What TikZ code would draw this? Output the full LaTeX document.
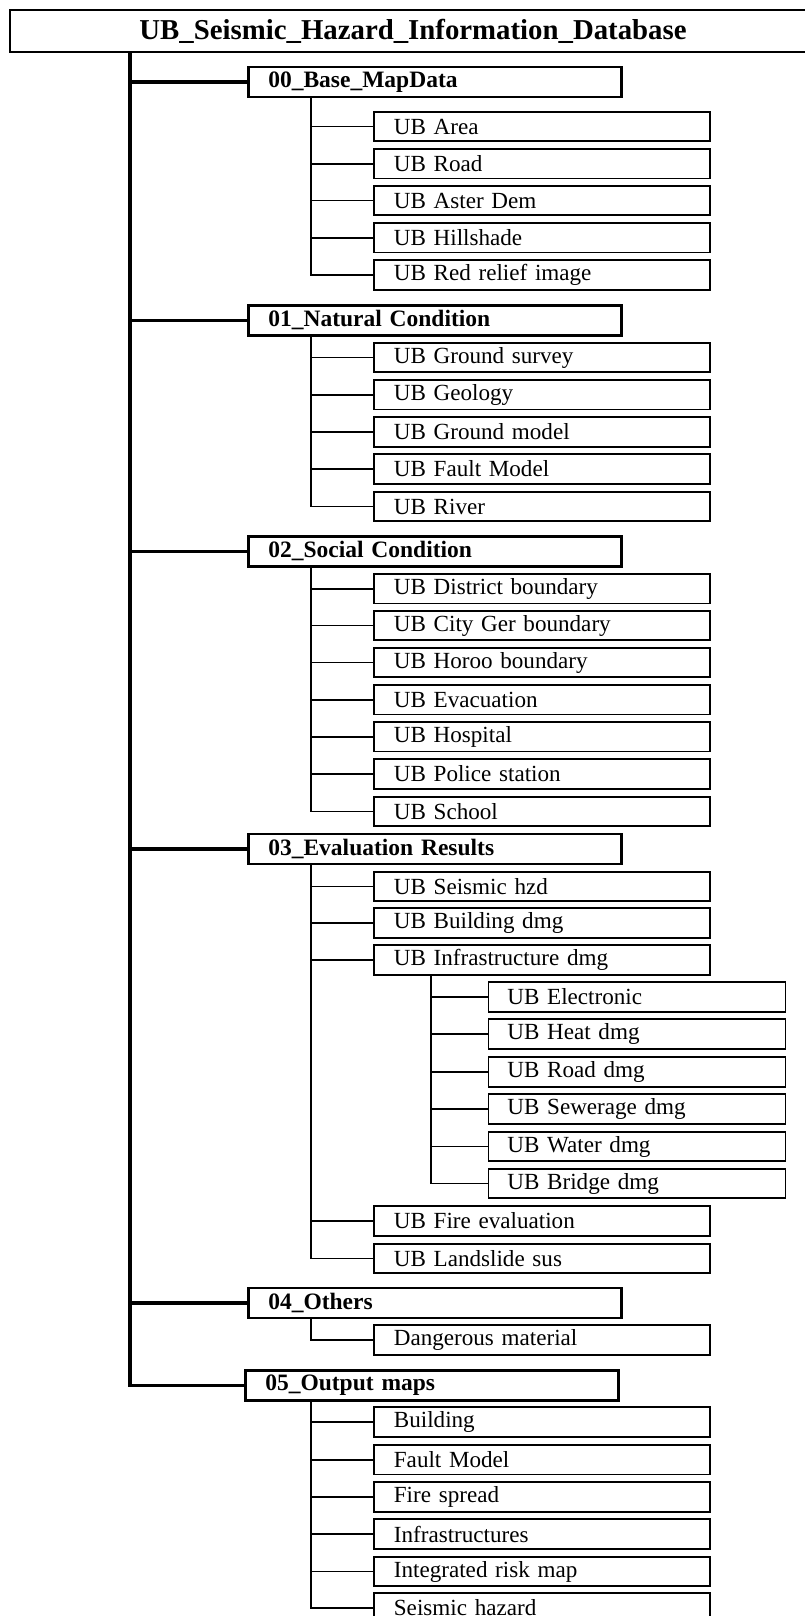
\documentclass[tikz,border=0pt]{standalone}
\usepackage{fontspec}
\setmainfont{Liberation Serif}
\usepackage{tikz}
\tikzset{
  rootbox/.style={draw, line width=2.8pt, minimum width=806pt, minimum height=42pt, inner sep=0pt,
    font=\fontsize{28.8pt}{32pt}\selectfont\bfseries},
  groupbox/.style={draw, line width=2.6pt, anchor=west, minimum height=30pt, text width=333pt,
    inner xsep=20pt, inner ysep=0pt, align=left, font=\fontsize{23.5pt}{26pt}\selectfont\bfseries},
  layerbox/.style={draw, line width=1.8pt, anchor=west, minimum height=29.5pt, text width=296pt,
    inner xsep=20pt, inner ysep=0pt, align=left, font=\fontsize{23.1pt}{26pt}\selectfont},
  subbox/.style={layerbox, text width=259pt, inner xsep=19pt},
  trunkline/.style={line width=3.4pt},
  branchline/.style={line width=1.8pt}
}

\begin{document}
\begin{tikzpicture}[x=1pt, y=-1pt]
  \useasboundingbox (0,0) rectangle (805,1616);
  \node[rootbox] (root) at (413,31) {UB\_Seismic\_Hazard\_Information\_Database};
  \coordinate (spine) at (130,52);
  \coordinate (stem) at (311,0);
  \coordinate (stemsub) at (431,0);

  \node[groupbox] (base) at (247,82) {00\_Base\_MapData};
  \node[layerbox] (area) at (373,126.5) {UB Area};
  \node[layerbox] (road) at (373,163.8) {UB Road};
  \node[layerbox] (dem) at (373,200.5) {UB Aster Dem};
  \node[layerbox] (shade) at (373,237.8) {UB Hillshade};
  \node[layerbox] (relief) at (373,275) {UB Red relief image};

  \node[groupbox] (natural) at (247,320.4) {01\_Natural Condition};
  \node[layerbox] (survey) at (373,357.5) {UB Ground survey};
  \node[layerbox] (geology) at (373,394.8) {UB Geology};
  \node[layerbox] (groundmodel) at (373,432) {UB Ground model};
  \node[layerbox] (fault) at (373,469) {UB Fault Model};
  \node[layerbox] (river) at (373,506.5) {UB River};

  \node[groupbox] (social) at (247,551.4) {02\_Social Condition};
  \node[layerbox] (district) at (373,588.8) {UB District boundary};
  \node[layerbox] (citybnd) at (373,625.5) {UB City Ger boundary};
  \node[layerbox] (horoo) at (373,662.5) {UB Horoo boundary};
  \node[layerbox] (evac) at (373,699.8) {UB Evacuation};
  \node[layerbox] (hospital) at (373,736.8) {UB Hospital};
  \node[layerbox] (police) at (373,774) {UB Police station};
  \node[layerbox] (school) at (373,811.5) {UB School};

  \node[groupbox] (evaluation) at (247,849) {03\_Evaluation Results};
  \node[layerbox] (seismic) at (373,886.5) {UB Seismic hzd};
  \node[layerbox] (building) at (373,923) {UB Building dmg};
  \node[layerbox] (infra) at (373,960) {UB Infrastructure dmg};
  \node[subbox] (electronic) at (487.5,997) {UB Electronic};
  \node[subbox] (heat) at (487.5,1034) {UB Heat dmg};
  \node[subbox] (roaddmg) at (487.5,1072) {UB Road dmg};
  \node[subbox] (sewer) at (487.5,1109) {UB Sewerage dmg};
  \node[subbox] (water) at (487.5,1146.5) {UB Water dmg};
  \node[subbox] (bridge) at (487.5,1183.5) {UB Bridge dmg};
  \node[layerbox] (fire) at (373,1221) {UB Fire evaluation};
  \node[layerbox] (landslide) at (373,1258.5) {UB Landslide sus};

  \node[groupbox] (others) at (247,1303) {04\_Others};
  \node[layerbox] (danger) at (373,1340) {Dangerous material};

  \node[groupbox] (output) at (244,1385.3) {05\_Output maps};
  \node[layerbox] (mbuilding) at (373,1422) {Building};
  \node[layerbox] (mfault) at (373,1459.8) {Fault Model};
  \node[layerbox] (mfire) at (373,1497) {Fire spread};
  \node[layerbox] (minfra) at (373,1534) {Infrastructures};
  \node[layerbox] (mrisk) at (373,1571.5) {Integrated risk map};
  \node[layerbox] (mseismic) at (373,1608) {Seismic hazard};

  \draw[trunkline] (spine) |- (output.west);
  \foreach \g in {base,natural,social,evaluation,others}
    \draw[trunkline] (spine |- \g.west) -- (\g.west);

  \draw[branchline] (base.south -| stem) |- (relief.west);
  \foreach \c in {area,road,dem,shade}
    \draw[branchline] (stem |- \c.west) -- (\c.west);
  \draw[branchline] (natural.south -| stem) |- (river.west);
  \foreach \c in {survey,geology,groundmodel,fault}
    \draw[branchline] (stem |- \c.west) -- (\c.west);
  \draw[branchline] (social.south -| stem) |- (school.west);
  \foreach \c in {district,citybnd,horoo,evac,hospital,police}
    \draw[branchline] (stem |- \c.west) -- (\c.west);
  \draw[branchline] (evaluation.south -| stem) |- (landslide.west);
  \foreach \c in {seismic,building,infra,fire}
    \draw[branchline] (stem |- \c.west) -- (\c.west);
  \draw[branchline] (infra.south -| stemsub) |- (bridge.west);
  \foreach \c in {electronic,heat,roaddmg,sewer,water}
    \draw[branchline] (stemsub |- \c.west) -- (\c.west);
  \draw[branchline] (others.south -| stem) |- (danger.west);
  \draw[branchline] (output.south -| stem) |- (mseismic.west);
  \foreach \c in {mbuilding,mfault,mfire,minfra,mrisk}
    \draw[branchline] (stem |- \c.west) -- (\c.west);
\end{tikzpicture}
\end{document}
